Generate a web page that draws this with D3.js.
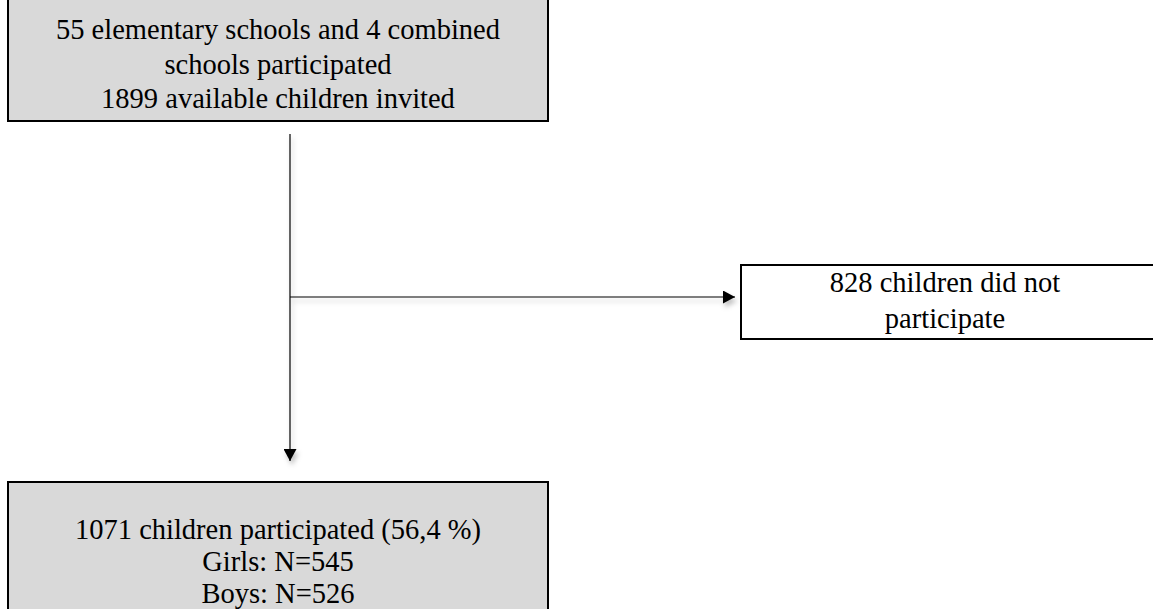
<!DOCTYPE html>
<html lang="en">
<head>
<meta charset="utf-8" />
<title>Flow chart</title>
<script src="https://d3js.org/d3.v7.min.js"></script>
<style>
  body { margin: 0; background: #fff; }
  svg { display: block; }
</style>
</head>
<body>
<script>
// box texts
const topLines = ["55 elementary schools and 4 combined", "schools participated", "1899 available children invited"];
const sideLines = ["828 children did not", "participate"];
const bottomLines = ["1071 children participated (56,4 %)", "Girls: N=545", "Boys: N=526"];

const width = 1153, height = 609;
const svg = d3.select("body").append("svg")
    .attr("width", width)
    .attr("height", height);

// soft shadow like the office export
const defs = svg.append("defs");
const f = defs.append("filter").attr("id", "shadow")
    .attr("x", "-20%").attr("y", "-20%").attr("width", "140%").attr("height", "200%");
f.append("feDropShadow").attr("dx", 2).attr("dy", 4).attr("stdDeviation", 2.5)
    .attr("flood-color", "#000").attr("flood-opacity", 0.25);

defs.append("marker").attr("id", "arrow")
    .attr("viewBox", "0 0 12 13").attr("refX", 12).attr("refY", 6.5)
    .attr("markerWidth", 12).attr("markerHeight", 13)
    .attr("markerUnits", "userSpaceOnUse")
    .attr("orient", "auto")
    .append("path").attr("d", "M0,0 L12,6.5 L0,13 Z").attr("fill", "#000");

const boxes = [
  { x: 8, y: -2, w: 540, h: 123, fill: "#d9d9d9", lines: topLines, y0: 39, dy: 34.5 },
  { x: 741, y: 265, w: 420, h: 74, fill: "#fff", lines: sideLines, y0: 292, dy: 36 },
  { x: 8, y: 482, w: 540, h: 140, fill: "#d9d9d9", lines: bottomLines, y0: 539, dy: 32 }
];

// connectors
const lineG = svg.append("g").attr("filter", "url(#shadow)");
lineG.append("line")
    .attr("x1", 290).attr("y1", 134).attr("x2", 290).attr("y2", 461)
    .attr("stroke", "#000").attr("stroke-width", 1.2)
    .attr("marker-end", "url(#arrow)");
lineG.append("line")
    .attr("x1", 290).attr("y1", 297).attr("x2", 735).attr("y2", 297)
    .attr("stroke", "#000").attr("stroke-width", 1.2)
    .attr("marker-end", "url(#arrow)");

const g = svg.selectAll("g.box").data(boxes).enter().append("g").attr("class", "box");

g.append("rect")
    .attr("x", d => d.x).attr("y", d => d.y)
    .attr("width", d => d.w).attr("height", d => d.h)
    .attr("fill", d => d.fill)
    .attr("stroke", "#000").attr("stroke-width", 2);

g.each(function (d) {
  const cx = d.x === 741 ? 945 : d.x + d.w / 2;
  d3.select(this).selectAll("text").data(d.lines).enter().append("text")
      .attr("x", cx)
      .attr("y", (t, i) => d.y0 + i * d.dy)
      .attr("text-anchor", "middle")
      .attr("font-family", "'Liberation Serif', 'Times New Roman', serif")
      .attr("font-size", 28.5)
      .attr("fill", "#000")
      .text(t => t);
});
</script>
</body>
</html>
